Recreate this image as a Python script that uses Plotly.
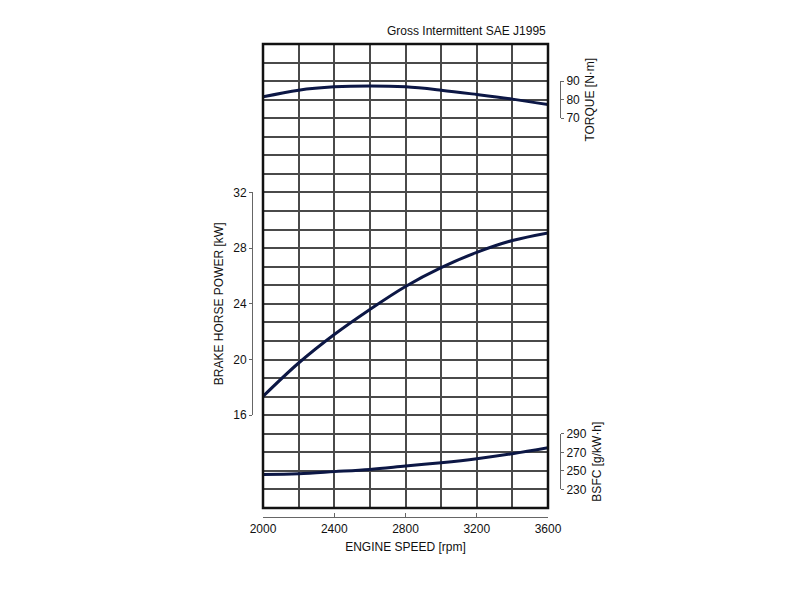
import plotly.graph_objects as go

# engine speed [rpm]
rpm = [2000, 2200, 2400, 2600, 2800, 3000, 3200, 3400, 3600]

# values
power_kw = [17.35, 19.75, 21.8, 23.6, 25.25, 26.6, 27.7, 28.55, 29.1]
torque_nm = [81.5, 85.1, 86.9, 87.4, 86.9, 85.1, 82.8, 80.3, 77.4]
bsfc_gkwh = [246.2, 247.0, 249.2, 251.6, 255.2, 258.8, 263.1, 268.5, 274.9]

x_ticks = [2000, 2400, 2800, 3200, 3600]
power_ticks = [16, 20, 24, 28, 32]
torque_ticks = [70, 80, 90]
bsfc_ticks = [230, 250, 270, 290]

FONT = "Liberation Sans"
TEXT = "#111111"
CURVE = "#0c1745"
GRID = "#4a4a4a"

# background grid: 25 rows, each side scale sits on whole rows
N_ROWS = 25
GRID_DOM = [0.0645, 1.0]
row_h = (GRID_DOM[1] - GRID_DOM[0]) / N_ROWS


def rows_dom(row_lo, row_hi):
    # rows counted from the bottom of the grid
    return [GRID_DOM[0] + row_lo * row_h, GRID_DOM[0] + row_hi * row_h]


fig = go.Figure()

# empty trace so the base grid axes are drawn
fig.add_trace(go.Scatter(x=[rpm[0]], y=[0], mode="markers",
                         marker=dict(opacity=0), hoverinfo="skip",
                         showlegend=False, xaxis="x", yaxis="y"))

fig.add_trace(go.Scatter(x=rpm, y=power_kw, mode="lines", line_shape="spline",
                         line=dict(color=CURVE, width=3), showlegend=False,
                         xaxis="x", yaxis="y2"))
fig.add_trace(go.Scatter(x=rpm, y=torque_nm, mode="lines", line_shape="spline",
                         line=dict(color=CURVE, width=3), showlegend=False,
                         xaxis="x", yaxis="y3"))
fig.add_trace(go.Scatter(x=rpm, y=bsfc_gkwh, mode="lines", line_shape="spline",
                         line=dict(color=CURVE, width=3), showlegend=False,
                         xaxis="x", yaxis="y4"))

side_axis = dict(
    anchor="free", showgrid=False, zeroline=False,
    showline=True, linecolor="#666", linewidth=1,
    ticks="outside", ticklen=3, tickcolor="#666",
    tickfont=dict(family=FONT, size=12, color=TEXT),
    title_font=dict(family=FONT, size=12, color=TEXT),
)

# page body has an 8px offset, so margins are shifted by 8px
fig.update_layout(
    width=800, height=600,
    margin=dict(l=192, r=208, t=36, b=68),
    paper_bgcolor="white", plot_bgcolor="rgba(0,0,0,0)",
    font=dict(family=FONT, size=12, color=TEXT),
    xaxis=dict(
        domain=[0.1575, 0.87], range=[2000, 3600],
        anchor="free", position=0.046,
        tickvals=x_ticks, showgrid=True, gridcolor=GRID, gridwidth=1.5,
        minor=dict(dtick=200, showgrid=True, gridcolor=GRID, gridwidth=1.5),
        showline=True, linecolor="#666", linewidth=1,
        ticks="inside", ticklen=4, tickcolor="#666",
        zeroline=False,
        tickfont=dict(family=FONT, size=12, color=TEXT),
        title=dict(text="ENGINE SPEED [rpm]", standoff=8,
                   font=dict(family=FONT, size=12, color=TEXT)),
    ),
    yaxis=dict(
        domain=GRID_DOM, range=[0, N_ROWS], dtick=1,
        showgrid=True, gridcolor=GRID, gridwidth=1.5,
        showticklabels=False, zeroline=False, showline=False,
    ),
    yaxis2=dict(side_axis, domain=rows_dom(5, 17), range=[16, 32],
                tickvals=power_ticks, side="left", position=0.13,
                title=dict(text="BRAKE HORSE POWER [kW]", standoff=6)),
    yaxis3=dict(side_axis, domain=rows_dom(21, 23), range=[70, 90],
                tickvals=torque_ticks, side="right", position=0.9,
                title=dict(text="TORQUE [N·m]", standoff=6)),
    yaxis4=dict(side_axis, domain=rows_dom(1, 4), range=[230, 290],
                tickvals=bsfc_ticks, side="right", position=0.9,
                title=dict(text="BSFC [g/kW·h]", standoff=6)),
    shapes=[dict(type="rect", xref="x domain", yref="y domain",
                 x0=0, x1=1, y0=0, y1=1,
                 line=dict(color="#111", width=2.5))],
    annotations=[dict(text="Gross Intermittent SAE J1995",
                      xref="x domain", yref="paper", x=1, y=1,
                      xanchor="right", yanchor="bottom", yshift=4,
                      showarrow=False,
                      font=dict(family=FONT, size=12, color=TEXT))],
)

fig.write_html("out.html")
